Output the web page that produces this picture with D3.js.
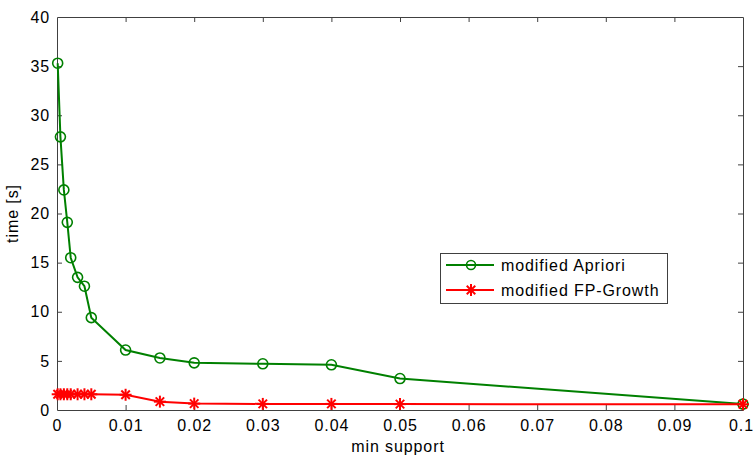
<!DOCTYPE html>
<html><head><meta charset="utf-8">
<script src="https://cdn.jsdelivr.net/npm/d3@7"></script>
<style>
html,body{margin:0;padding:0;background:#fff;}
svg text{font-family:"Liberation Sans",Arial,Helvetica,sans-serif;fill:#000;letter-spacing:0.9px;}
</style></head>
<body>
<svg id="chart" width="753" height="456"></svg>
<script>
const minSupport = [0.0001, 0.0005, 0.001, 0.0015, 0.002, 0.003, 0.004, 0.005, 0.01, 0.015, 0.02, 0.03, 0.04, 0.05, 0.1];
const aprioriTime = [35.3, 27.8, 22.4, 19.1, 15.5, 13.5, 12.6, 9.4, 6.1, 5.3, 4.8, 4.7, 4.6, 3.2, 0.6];
const fpGrowthTime = [1.6, 1.6, 1.6, 1.6, 1.6, 1.6, 1.6, 1.6, 1.55, 0.85, 0.65, 0.62, 0.62, 0.6, 0.58];
const xTicks = [0, 0.01, 0.02, 0.03, 0.04, 0.05, 0.06, 0.07, 0.08, 0.09, 0.1];
const xTickLabels = ["0", "0.01", "0.02", "0.03", "0.04", "0.05", "0.06", "0.07", "0.08", "0.09", "0.1"];
const yTicks = [0, 5, 10, 15, 20, 25, 30, 35, 40];
const seriesNames = ["modified Apriori", "modified FP-Growth"];
const seriesColors = ["#008000", "#ff0000"];

(function () {
const svg = d3.select("#chart");
const L = 57, R = 743, T = 17, B = 410;
const x = d3.scaleLinear().domain([0, 0.1]).range([L, R]);
const y = d3.scaleLinear().domain([0, 40]).range([B, T]);
const axisColor = "#404040";

const gBottom = svg.append("g").attr("transform", `translate(0,${B})`)
  .call(d3.axisBottom(x).tickValues(xTicks).tickFormat((d, i) => xTickLabels[i]).tickSizeInner(-5).tickSizeOuter(0).tickPadding(10));
const gTop = svg.append("g").attr("transform", `translate(0,${T})`)
  .call(d3.axisTop(x).tickValues(xTicks).tickFormat("").tickSizeInner(-5).tickSizeOuter(0));
const gLeft = svg.append("g").attr("transform", `translate(${L},0)`)
  .call(d3.axisLeft(y).tickValues(yTicks).tickSizeInner(-5).tickSizeOuter(0).tickPadding(7));
const gRight = svg.append("g").attr("transform", `translate(${R},0)`)
  .call(d3.axisRight(y).tickValues(yTicks).tickFormat("").tickSizeInner(-5).tickSizeOuter(0));
[gBottom, gTop, gLeft, gRight].forEach(g => {
  g.selectAll("path").attr("stroke", axisColor).attr("stroke-width", 1);
  g.selectAll("line").attr("stroke", axisColor).attr("stroke-width", 1);
  g.selectAll("text").attr("font-size", 16).attr("fill", "#000")
    .style("font-family", '"Liberation Sans",Arial,sans-serif');
});
gBottom.selectAll(".tick").filter(d => d === 0 || d === 0.1).select("line").remove();
gTop.selectAll(".tick").filter(d => d === 0 || d === 0.1).select("line").remove();
gLeft.selectAll(".tick").filter(d => d === 0 || d === 40).select("line").remove();
gRight.selectAll(".tick").filter(d => d === 0 || d === 40).select("line").remove();
// keep the last label inside the picture, as in the reference
gBottom.selectAll(".tick").filter(d => d === 0.1).select("text").attr("dx", -2);

svg.append("text").attr("x", (L + R) / 2 - 2).attr("y", 452).attr("text-anchor", "middle")
  .attr("font-size", 16).text("min support");
svg.append("text").attr("transform", `translate(18,${(T + B) / 2}) rotate(-90)`)
  .attr("text-anchor", "middle").attr("font-size", 16).text("time [s]");

const line = d3.line().x(d => x(d[0])).y(d => y(d[1]));
const apriori = minSupport.map((s, i) => [s, aprioriTime[i]]);
const fp = minSupport.map((s, i) => [s, fpGrowthTime[i]]);

function star(g, cx, cy, r, color) {
  [0, 45, 90, 135].forEach(a => {
    const rad = a * Math.PI / 180;
    g.append("line")
      .attr("x1", cx - r * Math.cos(rad)).attr("y1", cy - r * Math.sin(rad))
      .attr("x2", cx + r * Math.cos(rad)).attr("y2", cy + r * Math.sin(rad))
      .attr("stroke", color).attr("stroke-width", 2);
  });
}

const plot = svg.append("g");
plot.append("path").datum(apriori).attr("d", line).attr("fill", "none")
  .attr("stroke", seriesColors[0]).attr("stroke-width", 2);
plot.selectAll("circle.ap").data(apriori).join("circle").attr("class", "ap")
  .attr("cx", d => x(d[0])).attr("cy", d => y(d[1])).attr("r", 5)
  .attr("fill", "none").attr("stroke", seriesColors[0]).attr("stroke-width", 1.6);

plot.append("path").datum(fp).attr("d", line).attr("fill", "none")
  .attr("stroke", seriesColors[1]).attr("stroke-width", 2);
const stars = plot.append("g");
fp.forEach(d => star(stars, x(d[0]), y(d[1]), 6, seriesColors[1]));

const lg = svg.append("g");
const lgX = 440, lgY = 253, lgW = 227, lgH = 50;
lg.append("rect").attr("x", lgX + 0.5).attr("y", lgY + 0.5).attr("width", lgW).attr("height", lgH)
  .attr("fill", "#fff").attr("stroke", axisColor).attr("stroke-width", 1);
seriesNames.forEach((name, i) => {
  const cy = lgY + 12 + i * 25;
  lg.append("line").attr("x1", lgX + 6).attr("x2", lgX + 54).attr("y1", cy).attr("y2", cy)
    .attr("stroke", seriesColors[i]).attr("stroke-width", 2);
  if (i === 0) {
    lg.append("circle").attr("cx", lgX + 31).attr("cy", cy).attr("r", 4.5)
      .attr("fill", "none").attr("stroke", seriesColors[i]).attr("stroke-width", 1.6);
  } else {
    star(lg, lgX + 31, cy, 6, seriesColors[i]);
  }
  lg.append("text").attr("x", lgX + 61).attr("y", cy + 6).attr("font-size", 16).text(name);
});
})();
</script>
</body></html>
